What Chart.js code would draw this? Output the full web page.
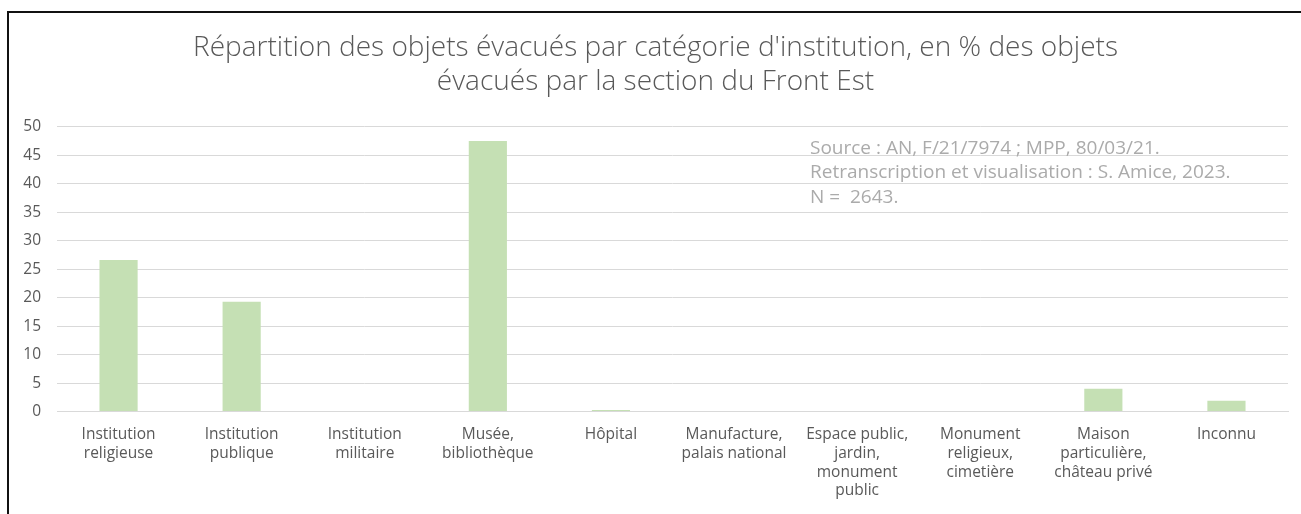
<!DOCTYPE html>
<html>
<head>
<meta charset="utf-8">
<script src="https://cdn.jsdelivr.net/npm/chart.js@4/dist/chart.umd.min.js"></script>
<style>
  html, body { margin: 0; padding: 0; background: #fff; overflow: hidden; }
  #box { position: absolute; left: 7px; top: 11px; width: 1294px; height: 503px;
         border-left: 2px solid #111; border-top: 2px solid #111; }
  #chart { display: block; }
</style>
</head>
<body>
<div id="box"><canvas id="chart" width="1292" height="501"></canvas></div>
<script>
const categories = [
  ['Institution', 'religieuse'],
  ['Institution', 'publique'],
  ['Institution', 'militaire'],
  ['Musée,', 'bibliothèque'],
  ['Hôpital'],
  ['Manufacture,', 'palais national'],
  ['Espace public,', 'jardin,', 'monument', 'public'],
  ['Monument', 'religieux,', 'cimetière'],
  ['Maison', 'particulière,', 'château privé'],
  ['Inconnu']
]
const shares = [26.6, 19.3, 0, 47.5, 0.3, 0, 0, 0, 4.0, 1.9]
const yTicks = [0, 5, 10, 15, 20, 25, 30, 35, 40, 45, 50]
const titleLines = [
  "Répartition des objets évacués par catégorie d'institution, en % des objets",
  "évacués par la section du Front Est"
]
const sourceLines = [
  'Source : AN, F/21/7974 ; MPP, 80/03/21.',
  'Retranscription et visualisation : S. Amice, 2023.',
  'N =  2643.'
]

const textColor = '#595959'
const gridColor = '#d9d9d9'

// note in the upper right of the plot
const sourceNote = {
  id: 'sourceNote',
  afterDatasetsDraw(chart) {
    const ctx = chart.ctx
    const area = chart.chartArea
    const y = chart.scales.y
    ctx.save()
    ctx.font = '19px "Open Sans"'
    ctx.textBaseline = 'middle'
    const x0 = area.left + 753
    sourceLines.forEach((line, i) => {
      const cy = y.getPixelForValue(46.2) + i * 24.5
      ctx.fillStyle = '#fff'
      ctx.fillRect(x0 - 15, cy - 10, area.right - x0 + 15, 16)
      ctx.fillStyle = '#ababab'
      ctx.fillText(line, x0, cy)
    })
    ctx.restore()
  }
}

const ctx = document.getElementById('chart').getContext('2d')
new Chart(ctx, {
  type: 'bar',
  data: {
    labels: categories,
    datasets: [{
      data: shares,
      backgroundColor: '#c5e0b4',
      borderWidth: 0,
      barPercentage: 1,
      categoryPercentage: 0.31
    }]
  },
  options: {
    responsive: false,
    animation: false,
    layout: { padding: { left: 14, right: 13, top: 0, bottom: 0 } },
    plugins: {
      legend: { display: false },
      tooltip: { enabled: false },
      title: {
        display: true,
        text: titleLines,
        color: textColor,
        font: { family: 'Open Sans', size: 28, weight: 300, lineHeight: 1.21 },
        padding: { top: 18, bottom: 28 }
      }
    },
    scales: {
      x: {
        grid: { display: false, drawTicks: false },
        border: { display: true, color: gridColor, width: 1 },
        ticks: {
          color: textColor,
          font: { family: 'Open Sans', size: 15.5, lineHeight: 1.2 },
          padding: 14,
          maxRotation: 0,
          autoSkip: false
        }
      },
      y: {
        min: 0,
        max: 50,
        afterBuildTicks(scale) { scale.ticks = yTicks.map(v => ({ value: v })) },
        afterFit(scale) { scale.width = 34 },
        grid: { color: gridColor, drawTicks: false },
        border: { display: false },
        ticks: {
          color: textColor,
          font: { family: 'Open Sans', size: 15.5 },
          padding: 16
        }
      }
    }
  },
  plugins: [sourceNote]
})
</script>
</body>
</html>
